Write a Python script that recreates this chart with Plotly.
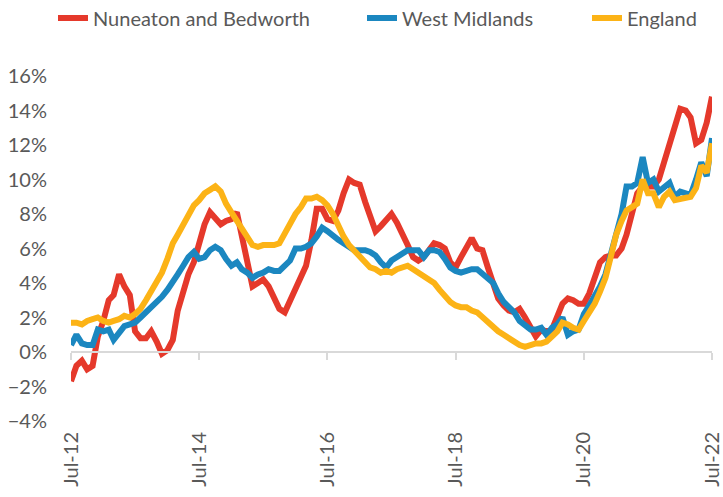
import pandas as pd
import plotly.graph_objects as go

dates = pd.date_range("2012-07-01", "2022-07-01", freq="MS")

nuneaton = [
    -1.7, -0.8, -0.5, -1.0, -0.8, 0.9, 1.8, 3.0, 3.3, 4.5, 3.8, 3.3,
    1.2, 0.8, 0.8, 1.2, 0.6, -0.1, 0.1, 0.7, 2.4, 3.6, 4.5, 5.2,
    6.3, 7.4, 8.1, 7.8, 7.4, 7.6, 7.7, 8.1, 6.8, 5.5, 3.8, 4.0,
    4.2, 3.8, 3.2, 2.5, 2.3, 3.0, 3.6, 4.4, 5.0, 6.5, 8.3, 8.3,
    7.7, 7.6, 8.2, 9.2, 10.0, 9.8, 9.7, 8.7, 7.8, 7.0, 7.3, 7.6,
    8.0, 7.5, 6.9, 6.2, 5.5, 5.3, 5.5, 5.9, 6.3, 6.2, 6.0, 5.2,
    4.9, 5.5, 6.1, 6.6, 6.0, 5.9, 4.9, 3.9, 3.1, 2.7, 2.4, 2.3,
    2.5, 2.0, 1.5, 0.9, 1.3, 1.2, 1.3, 2.0, 2.8, 3.1, 3.0, 2.8,
    2.8, 3.4, 4.3, 5.2, 5.5, 5.6, 5.6, 6.0, 6.8, 8.0, 9.2, 9.6,
    9.6, 9.6, 10.0, 11.0, 12.0, 12.8, 14.1, 14.0, 13.6, 12.1, 12.3, 13.3,
    14.8,
]
west_midlands = [
    0.4, 1.0, 0.5, 0.4, 0.4, 1.3, 1.2, 1.3, 0.7, 1.1, 1.5, 1.6,
    1.7, 2.0, 2.3, 2.7, 3.0, 3.2, 3.6, 4.0, 4.5, 5.0, 5.5, 5.8,
    5.4, 5.5, 5.9, 6.1, 5.9, 5.4, 5.0, 5.2, 4.8, 4.6, 4.3, 4.5,
    4.6, 4.8, 4.7, 4.7, 5.0, 5.3, 6.0, 6.0, 6.1, 6.3, 6.7, 7.2,
    7.0, 6.8, 6.5, 6.3, 6.1, 5.9, 5.9, 5.9, 5.8, 5.6, 5.2, 4.9,
    5.3, 5.5, 5.7, 5.9, 5.9, 5.9, 5.5, 5.9, 5.9, 5.8, 5.4, 4.9,
    4.7, 4.6, 4.7, 4.8, 4.8, 4.5, 4.2, 4.0, 3.4, 2.9, 2.6, 2.3,
    1.8, 1.5, 1.3, 1.3, 1.4, 1.0, 1.4, 1.6, 2.0, 1.0, 1.2, 1.3,
    2.2, 2.7, 3.2, 3.8, 4.5, 5.7, 7.0, 8.0, 9.6, 9.6, 9.8, 11.3,
    9.8, 10.0, 9.3, 9.6, 9.8, 9.0, 9.3, 9.2, 9.1, 10.0, 11.0, 10.2,
    12.4,
]
england = [
    1.7, 1.7, 1.6, 1.8, 1.9, 2.0, 1.8, 1.7, 1.8, 1.9, 2.1, 2.0,
    2.2, 2.5, 3.0, 3.5, 4.0, 4.6, 5.4, 6.3, 6.8, 7.4, 8.0, 8.5,
    8.8, 9.2, 9.4, 9.6, 9.3, 8.6, 8.1, 7.6, 7.1, 6.6, 6.2, 6.1,
    6.2, 6.2, 6.2, 6.3, 6.9, 7.5, 8.0, 8.4, 8.9, 8.9, 9.0, 8.8,
    8.5, 8.0, 7.3, 6.7, 6.2, 5.9, 5.6, 5.3, 4.9, 4.8, 4.6, 4.7,
    4.6, 4.8, 4.9, 5.0, 4.8, 4.6, 4.4, 4.2, 4.0, 3.6, 3.2, 2.9,
    2.7, 2.6, 2.6, 2.4, 2.3, 2.0, 1.7, 1.4, 1.2, 1.0, 0.8, 0.6,
    0.4, 0.3, 0.4, 0.5, 0.5, 0.6, 0.9, 1.2, 1.7, 1.6, 1.4, 1.3,
    1.8, 2.3, 2.8, 3.5, 4.3, 5.5, 6.8, 7.6, 8.2, 8.4, 8.6, 10.0,
    9.2, 9.2, 8.4, 9.0, 9.3, 8.8, 8.9, 9.0, 9.0, 9.5, 10.8, 10.4,
    12.1,
]

series_names = ["Nuneaton and Bedworth", "West Midlands", "England"]
colors = ["#E5392B", "#1B87C0", "#FCB316"]
tick_dates = pd.date_range("2012-07-01", "2022-07-01", freq="24MS")
tick_labels = [d.strftime("%b-%y") for d in tick_dates]
y_ticks = [-4, -2, 0, 2, 4, 6, 8, 10, 12, 14, 16]

W, H = 723, 497
legend_ids = ["legend", "legend2", "legend3"]
legend_x_px = [53, 362, 587]

fig = go.Figure()
for name, vals, col, lid in zip(series_names, [nuneaton, west_midlands, england], colors, legend_ids):
    fig.add_trace(go.Scatter(
        x=dates, y=[v / 100 for v in vals], name=name, mode="lines",
        line=dict(color=col, width=6), xaxis="x", yaxis="y", legend=lid,
    ))

# invisible trace to activate the zero-line axis (ticks at 0%)
fig.add_trace(go.Scatter(x=[dates[0], dates[-1]], y=[0, 0], mode="lines",
                         line=dict(width=0), showlegend=False, hoverinfo="skip",
                         xaxis="x2", yaxis="y"))

font = dict(family="Lato, Carlito, Calibri, sans-serif", size=20, color="#595959")
xrange = [dates[0], dates[-1]]

legends = {}
for lid, xp in zip(legend_ids, legend_x_px):
    legends[lid] = dict(orientation="h", x=xp / W, xanchor="left", xref="container",
                        y=1 - 18 / H, yanchor="middle", yref="container",
                        font=font, itemwidth=30, bgcolor="rgba(0,0,0,0)",
                        borderwidth=0)

fig.update_layout(
    width=W, height=H,
    margin=dict(l=71, r=11, t=76, b=76, autoexpand=False),
    plot_bgcolor="white", paper_bgcolor="white",
    font=font,
    showlegend=True,
    **legends,
    xaxis=dict(range=xrange, tickvals=list(tick_dates), ticktext=tick_labels,
               tickangle=-90, showgrid=False, showline=False, zeroline=False,
               ticks="outside", ticklen=2, tickcolor="rgba(0,0,0,0)",
               tickfont=font, automargin=False),
    xaxis2=dict(range=xrange, overlaying="x", anchor="free", position=0.2,
                side="bottom", tickvals=list(tick_dates), showticklabels=False,
                showgrid=False, zeroline=False, showline=True, linecolor="#D9D9D9",
                linewidth=2, ticks="outside", ticklen=7, tickwidth=2,
                tickcolor="#D9D9D9", automargin=False),
    yaxis=dict(range=[-0.04, 0.16], tickvals=[v / 100 for v in y_ticks],
               tickformat=".0%", showgrid=False, zeroline=False, showline=False,
               ticks="outside", ticklen=19, tickcolor="rgba(0,0,0,0)",
               tickfont=font, automargin=False),
)

fig.write_html("out.html", config={"displayModeBar": False},
               post_script="document.body.style.margin='0';")
